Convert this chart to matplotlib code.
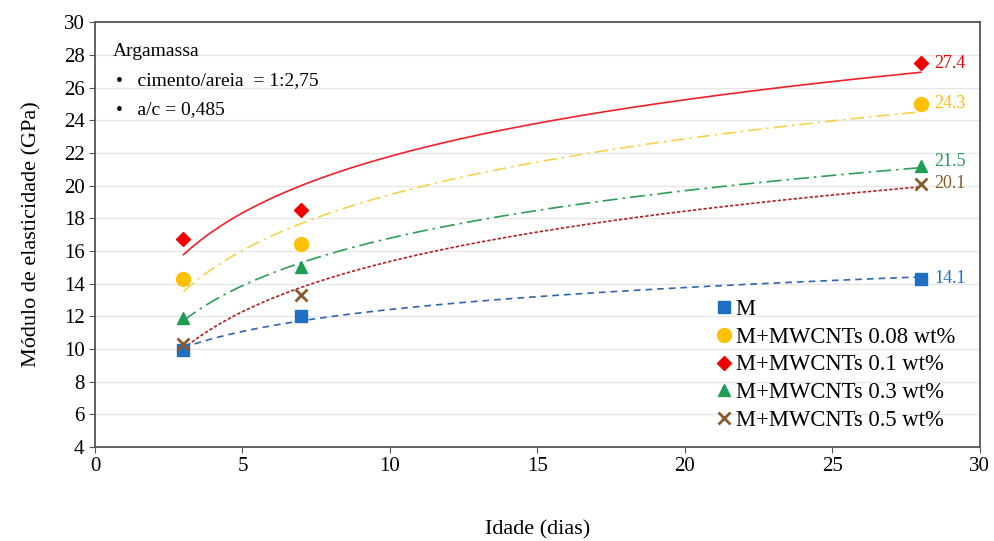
import numpy as np
import matplotlib
matplotlib.use("Agg")
from matplotlib import pyplot as plt

plt.rcParams['font.family'] = ['Liberation Serif', 'DejaVu Serif']

# data
days = [3, 7, 28]
series_names = ["M", "M+MWCNTs 0.08 wt%", "M+MWCNTs 0.1 wt%",
                "M+MWCNTs 0.3 wt%", "M+MWCNTs 0.5 wt%"]
m_vals = [9.9, 12.0, 14.3]
m008_vals = [14.3, 16.4, 25.0]
m01_vals = [16.7, 18.5, 27.5]
m03_vals = [11.9, 15.0, 21.2]
m05_vals = [10.3, 13.3, 20.1]
end_labels = ["14.1", "24.3", "27.4", "21.5", "20.1"]

values = [m_vals, m008_vals, m01_vals, m03_vals, m05_vals]
markers = ["s", "o", "D", "^", "x"]
colors = ["#1F6FC2", "#FFC000", "#F00000", "#1E9E55", "#8B5A2B"]
line_colors = ["#2E64B0", "#F5D24A", "#F0202A", "#2E9E55", "#B02020"]
line_styles = [(0, (4, 3)), (0, (8, 3, 1.5, 3)), "-", (0, (9, 3, 1.5, 3)), (0, (2, 1.2))]
msizes = [8, 10, 7, 9, 8]
label_offsets = [0, 0, 0, 0.3, 0]

fig = plt.figure(figsize=(9.94, 5.41), dpi=100)
ax = fig.add_axes([0.0956, 0.174, 0.890, 0.785])

xfit = np.linspace(3, 28, 200)
for i, name in enumerate(series_names):
    # logarithmic trend line fitted to the points
    b, a = np.polyfit(np.log(days), values[i], 1)
    ax.plot(xfit, a + b * np.log(xfit), color=line_colors[i], ls=line_styles[i], lw=1.2, zorder=2)
    mk = markers[i]
    if mk == "x":
        ax.plot(days, values[i], ls="none", marker=mk, color=colors[i], ms=msizes[i],
                mew=2.0, label=name, zorder=3)
    else:
        ax.plot(days, values[i], ls="none", marker=mk, color=colors[i], ms=msizes[i],
                mec=colors[i], label=name, zorder=3)
    ax.text(28.45, values[i][-1] + label_offsets[i], end_labels[i], color=colors[i],
            fontsize=13, va="center", ha="left")

ax.set_xlim(0, 30)
ax.set_ylim(4, 30)
ax.set_xticks(range(0, 31, 5))
ax.set_yticks(range(4, 31, 2))
ax.tick_params(labelsize=15, direction="out", length=4, color="#555555")
ax.grid(axis="y", color="#E6E6E6", lw=1)
ax.set_axisbelow(True)
for s in ax.spines.values():
    s.set_color("#555555")
    s.set_linewidth(1.3)

ax.set_xlabel("Idade (dias)", fontsize=16, labelpad=32)
ax.set_ylabel("Módulo de elasticidade (GPa)", fontsize=16, labelpad=16)

ax.text(0.6, 28.2, "Argamassa", fontsize=14, va="center")
ax.text(0.7, 26.45, "•   cimento/areia  = 1:2,75", fontsize=14, va="center")
ax.text(0.7, 24.65, "•   a/c = 0,485", fontsize=14, va="center")

ax.legend(loc="lower right", frameon=False, fontsize=16.3, handletextpad=0.0,
          handlelength=1.0, labelspacing=0.3, borderaxespad=0.3,
          bbox_to_anchor=(0.99, 0.0))

fig.savefig("out.png", dpi=100)
